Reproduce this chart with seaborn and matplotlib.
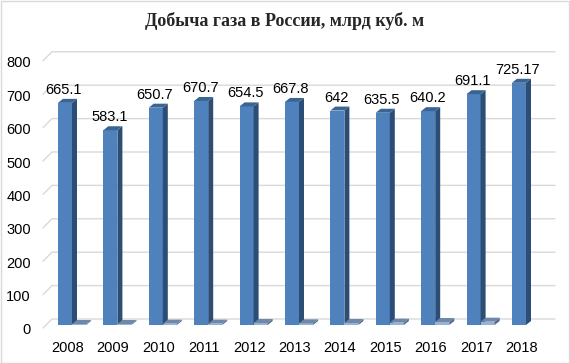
import numpy as np
import pandas as pd
import matplotlib
matplotlib.use('Agg')
import matplotlib.pyplot as plt
import matplotlib.transforms as mtransforms
from matplotlib.patches import Polygon, Rectangle
import seaborn as sns

# data
years = ['2008', '2009', '2010', '2011', '2012', '2013', '2014', '2015', '2016', '2017', '2018']
gas_output = [665.1, 583.1, 650.7, 670.7, 654.5, 667.8, 642, 635.5, 640.2, 691.1, 725.17]
gas_labels = ['665.1', '583.1', '650.7', '670.7', '654.5', '667.8', '642', '635.5', '640.2', '691.1', '725.17']
second_series = [3, 3, 4, 4, 6, 5, 6, 7, 9, 10, np.nan]
y_ticks = [0, 100, 200, 300, 400, 500, 600, 700, 800]
title = 'Добыча газа в России, млрд куб. м'

df = pd.DataFrame({
    'year': years * 2,
    'series': ['gas'] * len(years) + ['other'] * len(years),
    'value': gas_output + second_series,
})

sns.set_theme(style='white')
plt.rcParams['font.family'] = ['Liberation Sans', 'DejaVu Sans']

W, H = 570, 363
ax_l, ax_b, ax_w, ax_h = 49.3, 38, 499.4, 267.2
fig = plt.figure(figsize=(W / 100, H / 100), dpi=100)
ax = fig.add_axes([ax_l / W, ax_b / H, ax_w / W, ax_h / H])

sns.barplot(data=df, x='year', y='value', hue='series',
            palette=['#4f81bd', '#95b3d7'], width=0.62, saturation=1,
            legend=False, linewidth=0, edgecolor='none', ax=ax)
ax.set_xlim(-0.5, 10.5)
ax.set_ylim(0, 800)

# data units per pixel
ux = 11 / ax_w
uy = 800 / ax_h

# 3d-ish faces for the bars
faces = [('#4f81bd', '#2c4d75', '#3a6593', 3),
         ('#95b3d7', '#56698a', '#6f87a8', 5)]
dx, dy = 5 * ux, 4 * uy
for cont, (front, side, top, z) in zip(ax.containers, faces):
    for p in cont.patches:
        h = p.get_height()
        if np.isnan(h):
            continue
        p.set_zorder(z)
        p.set_linewidth(0)
        x0 = p.get_x()
        x1 = x0 + p.get_width()
        ax.add_patch(Polygon([(x1, 0), (x1 + dx, dy), (x1 + dx, h + dy), (x1, h)],
                             closed=True, facecolor=side, edgecolor='none', lw=0, zorder=z))
        ax.add_patch(Polygon([(x0, h), (x0 + dx, h + dy), (x1 + dx, h + dy), (x1, h)],
                             closed=True, facecolor=top, edgecolor='none', lw=0, zorder=z))

# value labels on the main series
for p, lab in zip(ax.containers[0].patches, gas_labels):
    ax.annotate(lab, (p.get_x() + p.get_width() / 2, p.get_height()),
                xytext=(-1, 9), textcoords='offset pixels',
                ha='center', va='baseline', fontsize=10.5, color='black', zorder=6)

# gridlines on the back wall with the little diagonal at the left
for v in y_ticks:
    ax.plot([-0.5 - 6.3 * ux, -0.5 + 2.7 * ux, 10.5 + 6.3 * ux],
            [v - 3 * uy, v + 6 * uy, v + 6 * uy],
            color='#d9d9d9', lw=1, zorder=1, clip_on=False)

for s in ax.spines.values():
    s.set_visible(False)
ax.grid(False)
ax.set_xlabel('')
ax.set_ylabel('')
ax.set_yticks(y_ticks)
ax.set_yticklabels([str(v) for v in y_ticks])
ax.tick_params(axis='y', length=0, pad=13.2, labelsize=10.5, labelcolor='black')
ax.tick_params(axis='x', length=0, pad=11.5, labelsize=10.5, labelcolor='black')

for lbl in ax.get_yticklabels():
    lbl.set_transform(lbl.get_transform() + mtransforms.ScaledTranslation(0, -0.04, fig.dpi_scale_trans))
for lbl in ax.get_xticklabels():
    lbl.set_transform(lbl.get_transform() + mtransforms.ScaledTranslation(-0.045, 0, fig.dpi_scale_trans))

fig.text(0.5, 1 - 21 / H, title, ha='center', va='center',
         family=['Liberation Serif', 'DejaVu Serif'], fontsize=13, weight='bold')

fig.patches.append(Rectangle((0.5 / W, 0.5 / H), 1 - 1.5 / W, 1 - 1.5 / H,
                             transform=fig.transFigure, fill=False,
                             edgecolor='#d9d9d9', lw=1))

fig.savefig('out.png', dpi=100)
